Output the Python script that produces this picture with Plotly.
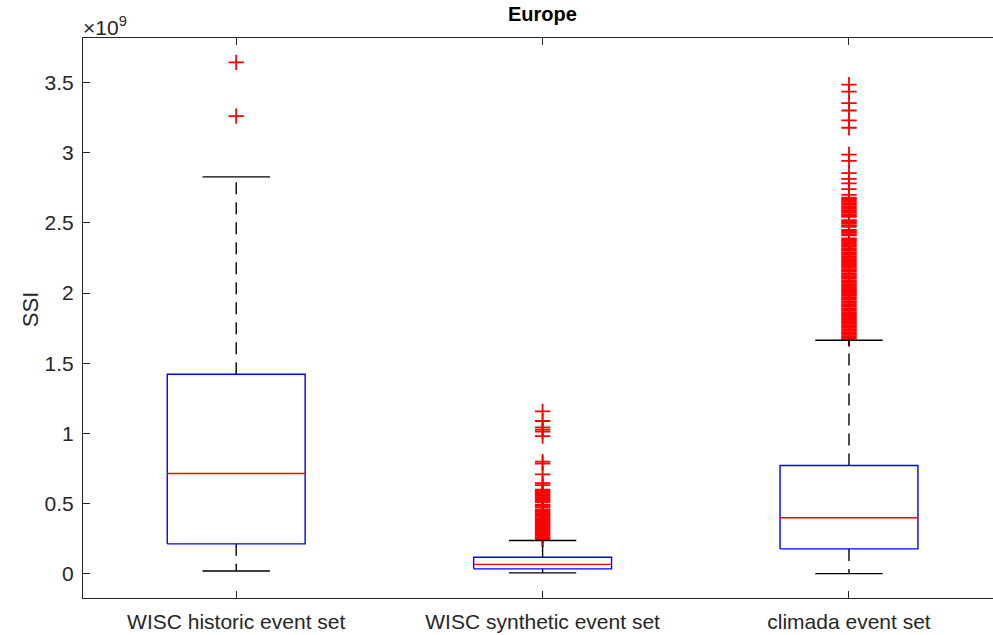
import plotly.graph_objects as go

# ---- data (SSI values in units of 1e9) ----
categories = ["WISC historic event set", "WISC synthetic event set", "climada event set"]
q1 = [0.212, 0.034, 0.176]
median = [0.714, 0.066, 0.398]
q3 = [1.421, 0.117, 0.771]
lower_whisker = [0.019, 0.005, 0.000]
upper_whisker = [2.829, 0.236, 1.664]

outliers_historic = [3.645, 3.262]
outliers_synthetic = [
    1.157, 1.088, 1.043, 1.027, 1.012, 0.980, 0.798, 0.784, 0.707, 0.645, 0.631,
    0.598, 0.590, 0.581, 0.572, 0.563, 0.554, 0.545, 0.536, 0.527, 0.518, 0.509,
    0.492, 0.483, 0.474, 0.458, 0.449, 0.440, 0.431, 0.422, 0.413, 0.404, 0.395,
    0.386, 0.377, 0.368, 0.359, 0.350, 0.341, 0.332, 0.323, 0.314, 0.305, 0.296,
    0.287, 0.278, 0.269, 0.260, 0.251, 0.242,
]
outliers_climada = [
    3.486, 3.436, 3.355, 3.302, 3.231, 3.179, 2.988, 2.943, 2.855, 2.814, 2.783,
    2.741, 2.700, 2.680, 2.671, 2.660, 2.652, 2.641, 2.633, 2.620, 2.612, 2.603,
    2.591, 2.582, 2.574, 2.561, 2.552, 2.544, 2.520, 2.511, 2.502, 2.493, 2.481,
    2.472, 2.450, 2.441, 2.432, 2.421, 2.412, 2.390, 2.381, 2.372, 2.363, 2.351,
    2.342, 2.333, 2.321, 2.312, 2.303, 2.291, 2.282, 2.273, 2.262, 2.251, 2.242,
    2.231, 2.222, 2.213, 2.201, 2.192, 2.183, 2.171, 2.162, 2.153, 2.141, 2.132,
    2.121, 2.112, 2.103, 2.091, 2.082, 2.073, 2.062, 2.051, 2.042, 2.031, 2.022,
    2.013, 2.001, 1.992, 1.983, 1.971, 1.962, 1.953, 1.941, 1.932, 1.921, 1.912,
    1.903, 1.891, 1.882, 1.873, 1.862, 1.851, 1.842, 1.831, 1.822, 1.813, 1.801,
    1.792, 1.783, 1.771, 1.762, 1.753, 1.741, 1.732, 1.721, 1.712, 1.703, 1.691,
    1.682, 1.673,
]
outliers = [outliers_historic, outliers_synthetic, outliers_climada]

y_ticks = [0, 0.5, 1, 1.5, 2, 2.5, 3, 3.5]
y_tick_labels = ["0", "0.5", "1", "1.5", "2", "2.5", "3", "3.5"]

# ---- style ----
FONT = "Liberation Sans, Arial, Helvetica, sans-serif"
TXT = "#262626"
BOX_HALF = 0.225
CAP_HALF = 0.11

fig = go.Figure()

for i, name in enumerate(categories):
    c = i + 1
    # outliers
    fig.add_trace(go.Scatter(
        x=[c] * len(outliers[i]), y=outliers[i], mode="markers",
        marker=dict(symbol="cross-thin", size=11, line=dict(color="red", width=1.8)),
        hoverinfo="y", showlegend=False))
    # whiskers (dashed)
    fig.add_trace(go.Scatter(
        x=[c, c, None, c, c],
        y=[q3[i], upper_whisker[i], None, q1[i], lower_whisker[i]],
        mode="lines", line=dict(color="black", width=1.4, dash="12px,8px"),
        hoverinfo="skip", showlegend=False))
    # caps
    fig.add_trace(go.Scatter(
        x=[c - CAP_HALF, c + CAP_HALF, None, c - CAP_HALF, c + CAP_HALF],
        y=[upper_whisker[i], upper_whisker[i], None, lower_whisker[i], lower_whisker[i]],
        mode="lines", line=dict(color="black", width=1.4),
        hoverinfo="skip", showlegend=False))
    # box
    fig.add_trace(go.Scatter(
        x=[c - BOX_HALF, c + BOX_HALF, c + BOX_HALF, c - BOX_HALF, c - BOX_HALF],
        y=[q1[i], q1[i], q3[i], q3[i], q1[i]],
        mode="lines", line=dict(color="blue", width=1.4),
        hoverinfo="skip", showlegend=False))
    # median
    fig.add_trace(go.Scatter(
        x=[c - BOX_HALF, c + BOX_HALF], y=[median[i], median[i]],
        mode="lines", line=dict(color="red", width=1.4),
        hoverinfo="skip", showlegend=False))

fig.update_layout(
    width=993, height=635,
    margin=dict(l=83, r=0, t=38, b=37),
    paper_bgcolor="white", plot_bgcolor="white",
    font=dict(family=FONT, size=21, color=TXT),
    showlegend=False,
    xaxis=dict(
        range=[0.5, 3.47], tickmode="array", tickvals=[1, 2, 3], ticktext=categories,
        ticks="inside", ticklen=7, tickcolor=TXT, tickwidth=1,
        showline=True, linecolor=TXT, linewidth=1, mirror="ticks",
        showgrid=False, zeroline=False, ticklabelstandoff=5,
        tickfont=dict(family=FONT, size=21, color=TXT),
    ),
    yaxis=dict(
        range=[-0.174, 3.819], tickmode="array", tickvals=y_ticks, ticktext=y_tick_labels,
        ticks="inside", ticklen=7, tickcolor=TXT, tickwidth=1,
        showline=True, linecolor=TXT, linewidth=1,
        showgrid=False, zeroline=False, ticklabelstandoff=4,
        tickfont=dict(family=FONT, size=21, color=TXT),
    ),
    annotations=[
        dict(text="<b>Europe</b>", xref="x", x=2.0, yref="paper", y=1.0,
             xanchor="center", yanchor="bottom", yshift=11, showarrow=False,
             font=dict(family=FONT, size=20, color="black")),
        dict(text="×10<sup>9</sup>", xref="paper", x=0, yref="paper", y=1.0,
             xanchor="left", yanchor="bottom", showarrow=False, xshift=-2, yshift=-3,
             font=dict(family=FONT, size=21, color=TXT)),
        dict(text="SSI", xref="paper", x=0, yref="paper", y=0.514, xshift=-53,
             xanchor="center", yanchor="middle", textangle=-90, showarrow=False,
             font=dict(family=FONT, size=22, color=TXT)),
    ],
)

fig.write_html("out.html", config={"displayModeBar": False},
               post_script="document.body.style.margin='0';document.body.style.overflow='hidden';")
